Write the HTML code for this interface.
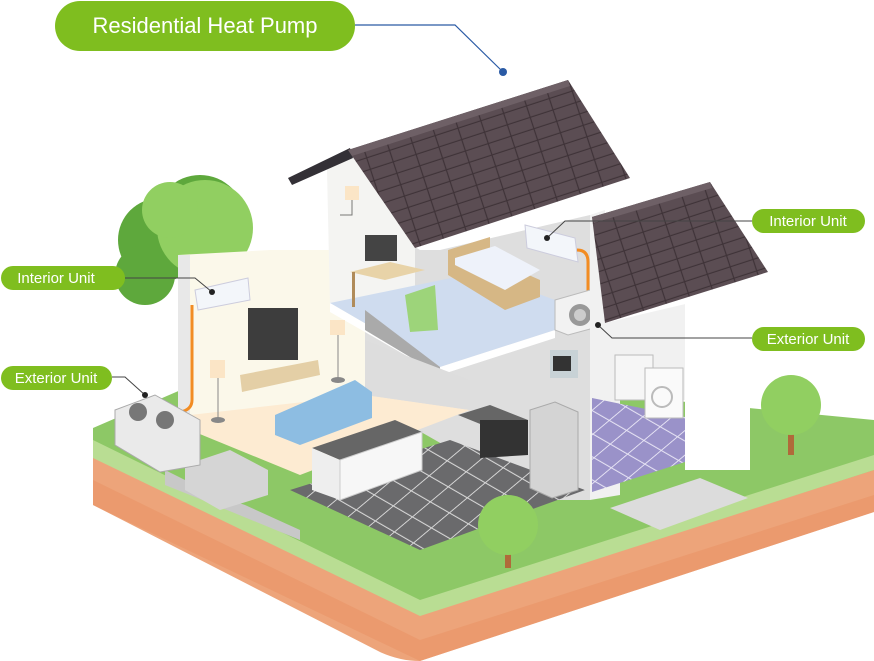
<!DOCTYPE html>
<html><head><meta charset="utf-8"><style>
body{margin:0;background:#fff;width:874px;height:661px;overflow:hidden;font-family:"Liberation Sans",sans-serif}
svg{display:block}
</style></head><body>
<svg width="874" height="661" viewBox="0 0 874 661" xmlns="http://www.w3.org/2000/svg">
<defs>
<pattern id="sh" width="24" height="12" patternUnits="userSpaceOnUse" patternTransform="rotate(-18)">
<rect width="24" height="12" fill="#5b4d53"/><path d="M0 11.5H24M12 0V12" stroke="#3f3338" stroke-width="1.2"/></pattern>
<pattern id="tl" width="22" height="22" patternUnits="userSpaceOnUse" patternTransform="rotate(30) skewX(-20)">
<rect width="22" height="22" fill="#6a6a6c"/><path d="M0 21.5H22M21.5 0V22" stroke="#d8d8d8" stroke-width="1"/></pattern>
<pattern id="tp" width="20" height="20" patternUnits="userSpaceOnUse" patternTransform="rotate(30) skewX(-20)">
<rect width="20" height="20" fill="#9a92c9"/><path d="M0 19.5H20M19.5 0V20" stroke="#e6e3f4" stroke-width="1"/></pattern>
</defs>
<!-- earth -->
<path d="M93 450 L420 612 L874 468 L874 512 L420 661 Q400 661 380 652 L93 505 Z" fill="#eda47a"/>
<path d="M93 480 L420 640 L874 495 L874 512 L420 661 L93 505Z" fill="#e99566" opacity=".6"/>
<!-- grass -->
<path d="M93 428 L250 360 L874 420 L874 470 L420 615 L93 455 Z" fill="#8dc866"/>
<path d="M93 440 L420 600 L874 455 L874 470 L420 616 L93 458 Z" fill="#b9dd93"/>
<path d="M610 508 L700 478 L748 498 L660 530 Z" fill="#dcdcdc"/>
<path d="M165 470 L215 495 L245 505 L300 530 L300 540 L215 505 L165 485Z" fill="#c8c8c8"/>
<!-- left tree -->
<circle cx="160" cy="240" r="42" fill="#5ea83c"/><circle cx="200" cy="220" r="45" fill="#5ea83c"/><circle cx="145" cy="275" r="30" fill="#5ea83c"/>
<circle cx="205" cy="228" r="48" fill="#91cf61"/><circle cx="170" cy="210" r="28" fill="#91cf61"/>
<!-- ground floor walls -->
<path d="M178 255 L270 250 L365 250 L365 400 L178 420 Z" fill="#fbf8ea"/>
<path d="M178 255 L190 255 L190 415 L178 420Z" fill="#e8e8e8"/>
<path d="M330 160 L350 150 L415 247 L420 250 L440 250 L590 215 L590 500 L540 500 L365 400 L365 250 L330 250Z" fill="#dedede"/>
<path d="M327 170 L350 150 L415 247 L415 300 L330 305 Z" fill="#f4f4f2"/>
<!-- upper floor -->
<path d="M330 303 L480 272 L555 300 L555 330 L440 367 Z" fill="#cfdcef"/>
<path d="M330 303 L440 367 L555 330 L555 338 L440 375 L330 312Z" fill="#fff"/>
<path d="M365 310 L440 367 L440 375 L365 330Z" fill="#aaa"/>
<!-- bed -->
<path d="M448 250 L490 237 L490 258 L540 280 L540 297 L505 310 L448 275Z" fill="#d6b785"/>
<path d="M455 258 L495 246 L540 270 L505 290 L455 265Z" fill="#eef2fa"/>
<!-- desk/tv -->
<rect x="365" y="235" width="32" height="26" fill="#444"/><path d="M350 272 L390 262 L425 270 L385 280Z" fill="#e8d3a8"/><rect x="352" y="272" width="3" height="35" fill="#b08b5a"/>
<path d="M405 295 L435 285 L438 330 L410 332Z" fill="#9dd47a"/>
<!-- wall AC upper -->
<path d="M525 225 L575 238 L578 262 L527 248Z" fill="#f3f6fa" stroke="#ccd" />
<path d="M577 250 Q588 250 588 262 L588 292" stroke="#f28c23" stroke-width="3" fill="none"/>
<!-- exterior unit -->
<path d="M555 300 L590 290 L605 295 L605 325 L568 335 L555 330Z" fill="#f2f2f2" stroke="#bbb"/>
<circle cx="580" cy="315" r="11" fill="#999"/><circle cx="580" cy="315" r="6" fill="#ccc"/><circle cx="598" cy="302" r="3" fill="#f28c23"/>
<rect x="550" y="350" width="28" height="28" fill="#c8d2d6"/><rect x="553" y="356" width="18" height="15" fill="#333"/>
<!-- right tower -->
<path d="M590 215 L605 210 L605 323 L745 290 L750 300 L750 470 L685 470 L685 400 L620 400 L620 495 L590 500Z" fill="#f1f1f1"/>
<path d="M685 300 L750 285 L750 470 L685 470Z" fill="#fff"/>
<path d="M592 398 L685 417 L685 462 L592 492Z" fill="url(#tp)"/>
<rect x="615" y="355" width="38" height="45" fill="#f6f6f6" stroke="#bbb"/><rect x="645" y="368" width="38" height="50" fill="#fafafa" stroke="#bbb"/><circle cx="662" cy="397" r="10" fill="none" stroke="#bbb" stroke-width="2"/>
<!-- roofs -->
<path d="M288 178 L350 148 L353 158 L292 185Z" fill="#333036"/>
<path d="M348 150 L568 80 L630 178 L415 248 Z" fill="url(#sh)"/>
<path d="M348 150 L568 80 L570 86 L352 156Z" fill="#6e6066"/>
<path d="M592 217 L710 182 L768 272 L605 323 Z" fill="url(#sh)"/>
<path d="M592 217 L710 182 L712 188 L594 223Z" fill="#6e6066"/>
<!-- lamp upper -->
<rect x="345" y="186" width="14" height="14" fill="#fbe5c6"/><path d="M352 200 V215 H340" stroke="#777" fill="none"/>
<!-- ground floor living -->
<path d="M190 415 L365 395 L470 410 L300 475 L190 430Z" fill="#fdebd2"/>
<path d="M365 340 L365 395 L470 410 L470 380Z" fill="#ddd"/>
<rect x="248" y="308" width="50" height="52" fill="#3d3d3d"/>
<path d="M240 375 L318 360 L320 375 L242 392Z" fill="#e4cfa6"/>
<path d="M330 320 L345 320 L345 335 L330 335Z" fill="#fbe5c6"/><path d="M338 335 V378" stroke="#888"/><ellipse cx="338" cy="380" rx="7" ry="3" fill="#888"/>
<path d="M210 360 L225 360 L225 378 L210 378Z" fill="#fbe5c6"/><path d="M218 378 V418" stroke="#888"/><ellipse cx="218" cy="420" rx="7" ry="3" fill="#888"/>
<path d="M275 415 L355 380 L372 392 L372 418 L300 445 L275 435Z" fill="#8dbde2"/>
<!-- ground floor AC -->
<path d="M195 290 L248 278 L250 300 L198 310Z" fill="#f3f6fa" stroke="#ccd"/>
<path d="M192 305 V400 Q192 410 180 412" stroke="#f28c23" stroke-width="3" fill="none"/>
<!-- kitchen -->
<path d="M290 490 L450 440 L585 490 L420 550 Z" fill="url(#tl)"/>
<path d="M312 448 L395 420 L422 432 L340 460 Z" fill="#666"/>
<path d="M312 448 L340 460 L340 500 L312 490Z" fill="#eee"/><path d="M340 460 L422 432 L422 470 L340 500Z" fill="#f7f7f7" stroke="#ccc"/>
<path d="M458 415 L490 405 L528 420 L500 432Z" fill="#666"/><path d="M480 420 L528 420 L528 455 L480 458Z" fill="#333"/>
<path d="M530 410 L555 402 L578 412 L578 490 L552 498 L530 488Z" fill="#d4d4d4" stroke="#aaa"/>
<!-- stairs & exterior unit left -->
<path d="M185 465 L230 450 L268 470 L268 495 L220 510 L185 490Z" fill="#d5d5d5"/>
<path d="M115 410 L155 395 L200 420 L200 465 L160 472 L115 445Z" fill="#eaeaea" stroke="#aaa"/>
<circle cx="138" cy="412" r="9" fill="#777"/><circle cx="165" cy="420" r="9" fill="#777"/>
<!-- small trees -->
<rect x="788" y="425" width="6" height="30" fill="#b06a3a"/><circle cx="791" cy="405" r="30" fill="#91cf61"/>
<rect x="505" y="540" width="6" height="28" fill="#b06a3a"/><circle cx="508" cy="525" r="30" fill="#91cf61"/>
<!-- callouts -->
<path d="M355 25 H455 L503 72" stroke="#2a5aa5" stroke-width="1.2" fill="none"/><circle cx="503" cy="72" r="4" fill="#2a5aa5"/>
<rect x="55" y="1" width="300" height="50" rx="25" fill="#7fbe1f"/>
<text x="205" y="33" fill="#fff" font-size="22" text-anchor="middle">Residential Heat Pump</text>
<path d="M752 221 H565 L547 238" stroke="#444" fill="none"/><circle cx="547" cy="238" r="3" fill="#222"/>
<path d="M752 338 H612 L598 325" stroke="#444" fill="none"/><circle cx="598" cy="325" r="3" fill="#222"/>
<path d="M125 278 H195 L212 292" stroke="#444" fill="none"/><circle cx="212" cy="292" r="3" fill="#222"/>
<path d="M112 377 H125 L145 395" stroke="#444" fill="none"/><circle cx="145" cy="395" r="3" fill="#222"/>
<g font-size="15" fill="#fff">
<rect x="752" y="209" width="113" height="24" rx="12" fill="#7fbe1f"/><text x="808" y="226" text-anchor="middle">Interior Unit</text>
<rect x="752" y="327" width="113" height="24" rx="12" fill="#7fbe1f"/><text x="808" y="344" text-anchor="middle">Exterior Unit</text>
<rect x="1" y="266" width="124" height="24" rx="12" fill="#7fbe1f"/><text x="56" y="283" text-anchor="middle">Interior Unit</text>
<rect x="1" y="366" width="111" height="24" rx="12" fill="#7fbe1f"/><text x="56" y="383" text-anchor="middle">Exterior Unit</text>
</g>
</svg>
</body></html>
